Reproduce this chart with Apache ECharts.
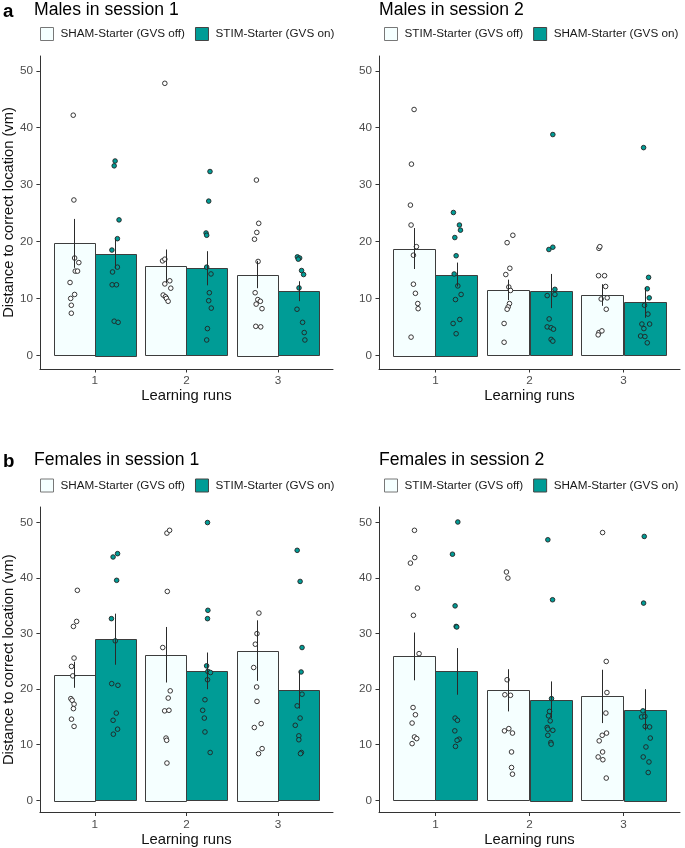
<!DOCTYPE html>
<html><head><meta charset="utf-8">
<script src="https://cdn.jsdelivr.net/npm/echarts@6/dist/echarts.min.js"></script>
<style>html,body{margin:0;padding:0;background:#fff}#c{width:685px;height:848px}</style>
</head><body><div id="c"></div>
<script>
// ---------- data ----------
const runs = [1, 2, 3];
const runLabels = ['1', '2', '3'];
const yTicks = [0, 10, 20, 30, 40, 50];

const panelTitles = ['Males in session 1', 'Males in session 2', 'Females in session 1', 'Females in session 2'];
const session1Names = ['SHAM-Starter (GVS off)', 'STIM-Starter (GVS on)'];
const session2Names = ['STIM-Starter (GVS off)', 'SHAM-Starter (GVS on)'];

// Males, session 1
const m1OffMean = [19.67, 15.65, 14.2];
const m1OffSE = [4.3, 2.95, 2.4];
const m1OnMean = [17.86, 15.3, 11.27];
const m1OnSE = [2.65, 3.0, 1.75];
const m1OffPts = [[0.764,42.2],[0.771,27.3],[0.779,17.1],[0.825,16.3],[0.786,14.8],[0.811,14.8],[0.729,12.8],[0.779,10.7],[0.736,10.0],[0.743,8.8],[0.743,7.4],
  [1.764,47.8],[1.739,16.6],[1.764,16.9],[1.818,13.1],[1.764,12.55],[1.829,11.8],[1.746,10.6],[1.771,10.3],[1.782,10.0],[1.8,9.5],
  [2.764,30.8],[2.789,23.2],[2.768,21.6],[2.743,20.4],[2.782,16.5],[2.75,11.0],[2.779,9.8],[2.807,9.5],[2.761,9.0],[2.825,8.2],[2.757,5.1],[2.811,5.0]];
const m1OnPts = [[1.221,34.15],[1.211,33.3],[1.264,23.8],[1.246,20.5],[1.186,18.5],[1.246,15.5],[1.193,14.65],[1.189,12.4],[1.236,12.4],[1.211,6.0],[1.254,5.8],
  [2.257,32.3],[2.243,27.1],[2.214,21.5],[2.221,21.1],[2.221,15.5],[2.268,14.3],[2.25,11.0],[2.243,9.6],[2.271,8.3],[2.229,4.7],[2.221,2.7],
  [3.211,17.3],[3.236,17.1],[3.221,16.9],[3.257,14.9],[3.279,14.2],[3.229,11.85],[3.207,8.1],[3.268,5.8],[3.286,4.0],[3.293,2.7]];

// Males, session 2
const m2OffMean = [18.77, 11.5, 10.6];
const m2OffSE = [3.6, 1.8, 1.9];
const m2OnMean = [14.2, 11.3, 9.3];
const m2OnSE = [2.1, 3.0, 2.7];
const m2OffPts = [[0.773,43.2],[0.745,33.6],[0.734,26.4],[0.741,22.9],[0.798,19.1],[0.766,17.6],[0.766,12.5],[0.787,10.9],[0.812,9.1],[0.816,8.2],[0.741,3.2],
  [1.823,21.1],[1.762,19.8],[1.791,15.3],[1.748,14.2],[1.78,12.0],[1.798,11.4],[1.787,9.1],[1.773,8.5],[1.762,8.1],[1.73,5.6],[1.73,2.3],
  [2.738,18.8],[2.748,19.1],[2.734,14.0],[2.798,14.0],[2.809,12.1],[2.762,9.9],[2.826,10.1],[2.816,8.1],[2.738,4.0],[2.77,4.3],[2.73,3.6]];
const m2OnPts = [[1.191,25.1],[1.255,22.9],[1.266,22.0],[1.206,20.7],[1.22,17.5],[1.199,14.3],[1.238,12.2],[1.273,10.7],[1.213,9.8],[1.259,6.3],[1.188,5.6],[1.22,3.8],
  [2.248,38.8],[2.206,18.6],[2.248,19.0],[2.27,11.6],[2.188,10.5],[2.27,10.7],[2.209,6.4],[2.188,5.0],[2.23,4.85],[2.255,4.6],[2.23,2.8],[2.248,2.5],
  [3.213,36.5],[3.266,13.7],[3.252,11.7],[3.273,10.1],[3.223,8.8],[3.259,7.25],[3.195,5.5],[3.277,5.5],[3.216,4.7],[3.181,3.4],[3.227,3.3],[3.252,2.2]];

// Females, session 1
const f1OffMean = [22.6, 26.2, 26.95];
const f1OffSE = [2.35, 5.0, 5.45];
const f1OnMean = [29.0, 23.3, 19.86];
const f1OnSE = [4.6, 3.3, 3.35];
const f1OffPts = [[0.809,37.8],[0.801,32.2],[0.766,31.3],[0.773,25.6],[0.745,24.1],[0.759,22.4],[0.738,18.3],[0.752,18.0],[0.773,17.3],[0.766,16.5],[0.745,14.6],[0.773,13.3],
  [1.787,48.1],[1.816,48.6],[1.791,37.6],[1.741,27.5],[1.823,19.7],[1.801,18.4],[1.762,16.1],[1.809,16.2],[1.777,11.2],[1.784,10.8],[1.787,6.7],
  [2.791,33.7],[2.77,30.0],[2.752,28.1],[2.734,23.9],[2.766,20.4],[2.77,17.8],[2.816,13.8],[2.741,13.1],[2.826,9.3],[2.787,8.4]];
const f1OnPts = [[1.199,43.8],[1.248,44.4],[1.238,39.6],[1.181,32.7],[1.223,28.7],[1.184,21.0],[1.252,20.7],[1.234,15.7],[1.199,14.4],[1.248,12.8],[1.202,11.9],
  [2.23,50.0],[2.234,34.2],[2.23,32.7],[2.22,24.2],[2.234,23.2],[2.262,23.0],[2.23,21.7],[2.202,18.1],[2.177,16.2],[2.195,14.8],[2.202,12.3],[2.259,8.6],
  [3.209,45.0],[3.241,39.4],[3.262,27.5],[3.252,23.1],[3.262,19.1],[3.209,17.0],[3.241,14.8],[3.188,13.5],[3.227,11.6],[3.227,10.9],[3.255,8.6],[3.245,8.4]];

// Females, session 2
const f2OffMean = [25.9, 19.8, 18.7];
const f2OffSE = [4.3, 3.8, 4.8];
const f2OnMean = [23.2, 18.1, 16.3];
const f2OnSE = [4.2, 3.3, 3.7];
const f2OffPts = [[0.777,48.6],[0.78,43.7],[0.734,42.7],[0.809,38.2],[0.766,33.3],[0.826,26.4],[0.762,16.7],[0.787,15.4],[0.752,13.9],[0.777,11.4],[0.801,11.1],[0.752,10.2],
  [1.755,41.1],[1.77,40.0],[1.762,21.7],[1.738,19.0],[1.798,18.9],[1.734,12.5],[1.78,12.9],[1.819,12.1],[1.809,8.7],[1.809,5.9],[1.819,4.7],
  [2.777,48.2],[2.816,25.0],[2.823,19.4],[2.812,15.7],[2.819,12.1],[2.773,11.7],[2.741,10.7],[2.777,8.7],[2.73,7.8],[2.78,7.3],[2.816,4.0]];
const f2OnPts = [[1.238,50.1],[1.181,44.3],[1.209,35.0],[1.22,31.3],[1.227,31.2],[1.209,14.8],[1.234,14.4],[1.206,12.5],[1.252,11.0],[1.23,10.8],[1.213,9.7],
  [2.195,46.9],[2.245,36.1],[2.234,18.3],[2.213,16.0],[2.202,15.2],[2.22,14.3],[2.188,13.1],[2.195,12.8],[2.248,12.6],[2.195,11.7],[2.227,10.4],[2.23,10.1],
  [3.22,47.5],[3.213,35.5],[3.206,16.1],[3.191,15.0],[3.227,15.1],[3.23,13.3],[3.277,13.2],[3.284,11.2],[3.238,9.6],[3.209,7.8],[3.27,6.9],[3.262,5.0]];

// ---------- styling / layout ----------
const FONT = '"Liberation Sans", Arial, sans-serif';
const WHITE = '#F5FFFF';
const TEAL = '#009C96';
const BAR_STROKE = '#3d3d3d';
const AXIS_COLOR = '#333333';
const LABEL_COLOR = '#4d4d4d';

const panels = [
  { title: panelTitles[0], names: session1Names, off: [m1OffMean, m1OffSE, m1OffPts], on: [m1OnMean, m1OnSE, m1OnPts],
    grid: { left: 34, top: 56, width: 299, height: 313 }, yMin: -2.4, yMax: 52.6, yName: true, legendPos: [40, 27], titlePos: [34, 1] },
  { title: panelTitles[1], names: session2Names, off: [m2OffMean, m2OffSE, m2OffPts], on: [m2OnMean, m2OnSE, m2OnPts],
    grid: { left: 379, top: 56, width: 301, height: 313 }, yMin: -2.4, yMax: 52.6, yName: false, legendPos: [384, 27], titlePos: [379, 1] },
  { title: panelTitles[2], names: session1Names, off: [f1OffMean, f1OffSE, f1OffPts], on: [f1OnMean, f1OnSE, f1OnPts],
    grid: { left: 33, top: 507, width: 300, height: 306 }, yMin: -2.2, yMax: 52.8, yName: true, legendPos: [40, 478.5], titlePos: [34, 451] },
  { title: panelTitles[3], names: session2Names, off: [f2OffMean, f2OffSE, f2OffPts], on: [f2OnMean, f2OnSE, f2OnPts],
    grid: { left: 379, top: 507, width: 301, height: 306 }, yMin: -2.2, yMax: 52.8, yName: false, legendPos: [384, 478.5], titlePos: [379, 451] }
];

const HALF = 0.45; // bar width in run units (dodge 0.9)

function barRender(side, fill) {
  return function (params, api) {
    const run = api.value(0), v = api.value(1);
    const x0 = side < 0 ? run - HALF : run;
    const p0 = api.coord([x0, v]);
    const p1 = api.coord([x0 + HALF, 0]);
    return { type: 'rect', shape: { x: Math.round(p0[0]) + 0.5, y: Math.round(p0[1]) + 0.5, width: Math.round(p1[0] - p0[0]), height: Math.round(p1[1] - p0[1]) },
      style: { fill: fill, stroke: BAR_STROKE, lineWidth: 1 } };
  };
}
function errRender(side) {
  return function (params, api) {
    const run = api.value(0), m = api.value(1), se = api.value(2);
    const x = run + side * HALF / 2;
    const a = api.coord([x, m - se]);
    const b = api.coord([x, m + se]);
    return { type: 'line', shape: { x1: Math.round(a[0]) + 0.5, y1: a[1], x2: Math.round(b[0]) + 0.5, y2: b[1] },
      style: { stroke: '#2a2a2a', lineWidth: 1 } };
  };
}

const grids = [], xAxes = [], yAxes = [], series = [], legends = [], titles = [];
titles.push({ text: 'a', left: 3, top: 2, padding: 0, textStyle: { fontSize: 18.7, fontWeight: 'bold', color: '#000', fontFamily: FONT } });
titles.push({ text: 'b', left: 3, top: 452, padding: 0, textStyle: { fontSize: 18.7, fontWeight: 'bold', color: '#000', fontFamily: FONT } });

panels.forEach((p, i) => {
  grids.push(Object.assign({ containLabel: false }, p.grid));
  titles.push({ text: p.title, left: p.titlePos[0], top: p.titlePos[1], padding: 0,
    textStyle: { fontSize: 17.6, fontWeight: 'normal', color: '#000', fontFamily: FONT } });
  xAxes.push({
    type: 'value', gridIndex: i, min: 0.4, max: 3.6,
    axisLine: { show: true, onZero: false, lineStyle: { color: AXIS_COLOR, width: 1 } },
    axisTick: { show: true, length: 3.5, customValues: runs, lineStyle: { color: AXIS_COLOR } },
    axisLabel: { customValues: runs, formatter: v => runLabels[runs.indexOf(v)], fontSize: 11.7, color: LABEL_COLOR, margin: 6, fontFamily: FONT },
    splitLine: { show: false },
    name: 'Learning runs', nameLocation: 'middle', nameGap: 19.5,
    nameTextStyle: { fontSize: 14.8, color: '#111', fontFamily: FONT }
  });
  yAxes.push({
    type: 'value', gridIndex: i, min: p.yMin, max: p.yMax,
    axisLine: { show: true, onZero: false, lineStyle: { color: AXIS_COLOR, width: 1 } },
    axisTick: { show: true, length: 3.5, customValues: yTicks, lineStyle: { color: AXIS_COLOR } },
    axisLabel: { customValues: yTicks, fontSize: 11.7, color: LABEL_COLOR, margin: 7, fontFamily: FONT },
    splitLine: { show: false },
    name: p.yName ? 'Distance to correct location (vm)' : '', nameLocation: 'middle', nameGap: 19,
    nameTextStyle: { fontSize: 14.7, color: '#111', fontFamily: FONT }
  });
  const groups = [[p.off, -1, WHITE, p.names[0], '#ffffff'], [p.on, 1, TEAL, p.names[1], TEAL]];
  groups.forEach(([g, side, fill, name, ptFill]) => {
    const [mean, se, pts] = g;
    series.push({ type: 'custom', name: name, xAxisIndex: i, yAxisIndex: i, z: 1, clip: false,
      itemStyle: { color: fill }, renderItem: barRender(side, fill),
      data: runs.map((r, k) => [r, mean[k]]) });
    series.push({ type: 'scatter', name: name, xAxisIndex: i, yAxisIndex: i, z: 2,
      symbol: 'circle', symbolSize: 4.6, silent: true,
      itemStyle: { color: ptFill, borderColor: '#222', borderWidth: 0.9, opacity: 1 },
      data: pts });
    series.push({ type: 'custom', name: name, xAxisIndex: i, yAxisIndex: i, z: 3, silent: true,
      itemStyle: { color: fill }, renderItem: errRender(side),
      data: runs.map((r, k) => [r, mean[k], se[k]]) });
  });
  legends.push({
    left: p.legendPos[0], top: p.legendPos[1], padding: 0, orient: 'horizontal',
    itemWidth: 13, itemHeight: 13, itemGap: 10, selectedMode: false,
    textStyle: { fontSize: 11.7, color: '#1a1a1a', fontFamily: FONT, padding: [0, 0, 0, 2] },
    data: [
      { name: p.names[0], icon: 'rect', itemStyle: { color: WHITE, borderColor: '#777', borderWidth: 1 } },
      { name: p.names[1], icon: 'rect', itemStyle: { color: TEAL, borderColor: '#444', borderWidth: 1 } }
    ]
  });
});

const chart = echarts.init(document.getElementById('c'), null, { renderer: 'canvas' });
chart.setOption({
  animation: false,
  backgroundColor: '#ffffff',
  textStyle: { fontFamily: FONT },
  title: titles, grid: grids, xAxis: xAxes, yAxis: yAxes, legend: legends, series: series
});
</script></body></html>
